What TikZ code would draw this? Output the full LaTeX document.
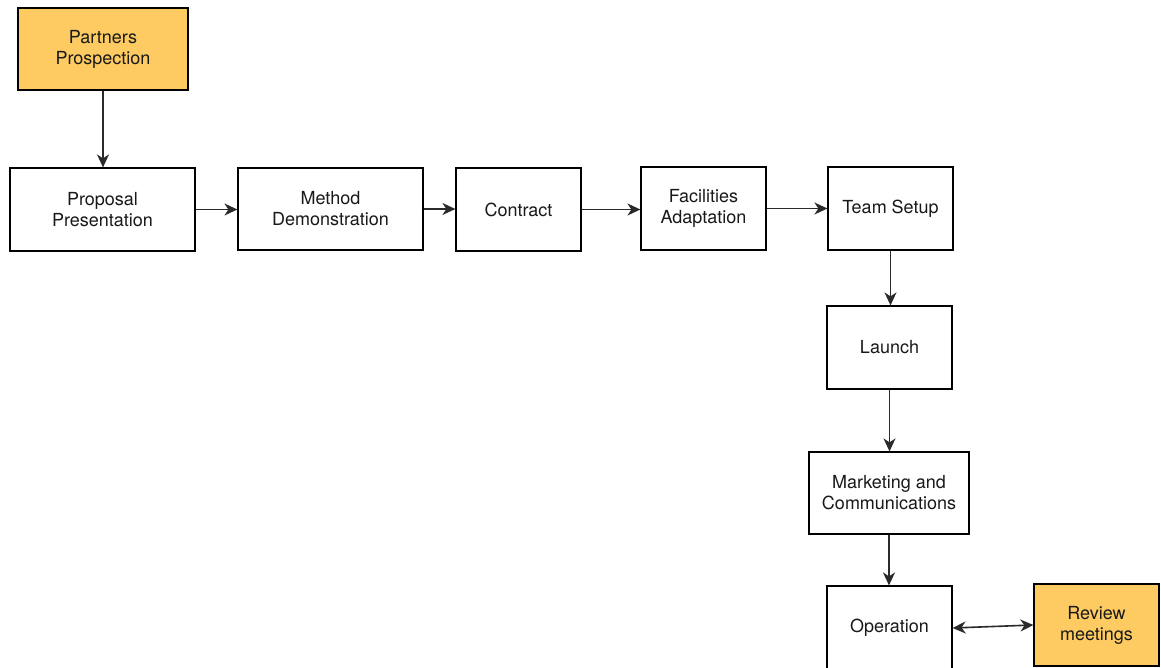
\documentclass[tikz,border=0pt]{standalone}
\usepackage{fontspec}
\setmainfont{TeX Gyre Heros}
\usetikzlibrary{arrows.meta}
\definecolor{boxorange}{HTML}{FDCB62}
\definecolor{linegrey}{HTML}{2A2A2A}
\begin{document}
\begin{tikzpicture}[x=1pt,y=-1pt,
  box/.style 2 args={draw=black, line width=1.2pt, fill=white, align=center,
    inner sep=0pt, minimum width=#1pt, minimum height=#2pt,
    font=\fontsize{18}{21}\selectfont, text=black!90},
  hl/.style={fill=boxorange},
  conn/.style={draw=linegrey, line width=1.6pt,
    -{Stealth[length=13pt,width=12pt,inset=4pt]}},
  biconn/.style={draw=linegrey, line width=1.6pt,
    {Stealth[length=13pt,width=12pt,inset=4pt]}-{Stealth[length=13pt,width=12pt,inset=4pt]}}]
\useasboundingbox (0,0) rectangle (1161,668);
\clip (0,0) rectangle (1161,668);
\fill[white] (0,0) rectangle (1161,668);

\node[box={170}{82}, hl] (pp) at (103,49) {Partners\\Prospection};
\node[box={185}{83}] (prop) at (102.5,209.5) {Proposal\\Presentation};
\node[box={185}{82}] (meth) at (330.5,209) {Method\\Demonstration};
\node[box={125}{83}] (con) at (518.5,209.5) {Contract};
\node[box={125}{83}] (fac) at (703.5,208.5) {Facilities\\Adaptation};
\node[box={125}{83}] (team) at (890.5,208.5) {Team Setup};
\node[box={125}{83}] (launch) at (889.5,347.5) {Launch};
\node[box={160}{82}] (mark) at (889,493) {Marketing and\\Communications};
\node[box={125}{84}] (op) at (889.5,628) {Operation};
\node[box={125}{82}, hl] (rev) at (1096.5,625) {Review\\meetings};

\draw[conn] (pp.south) -- (pp.south |- prop.north);
\draw[conn] (prop.east) -- (prop.east -| meth.west);
\draw[conn] (meth.east) -- (meth.east -| con.west);
\draw[conn] (con.east) -- (con.east -| fac.west);
\draw[conn] (fac.east) -- (fac.east -| team.west);
\draw[conn] (team.south) -- (team.south |- launch.north);
\draw[conn] (launch.south) -- (launch.south |- mark.north);
\draw[conn] (mark.south) -- (mark.south |- op.north);
\draw[biconn] (op.east) -- (rev.west);
\end{tikzpicture}
\end{document}
